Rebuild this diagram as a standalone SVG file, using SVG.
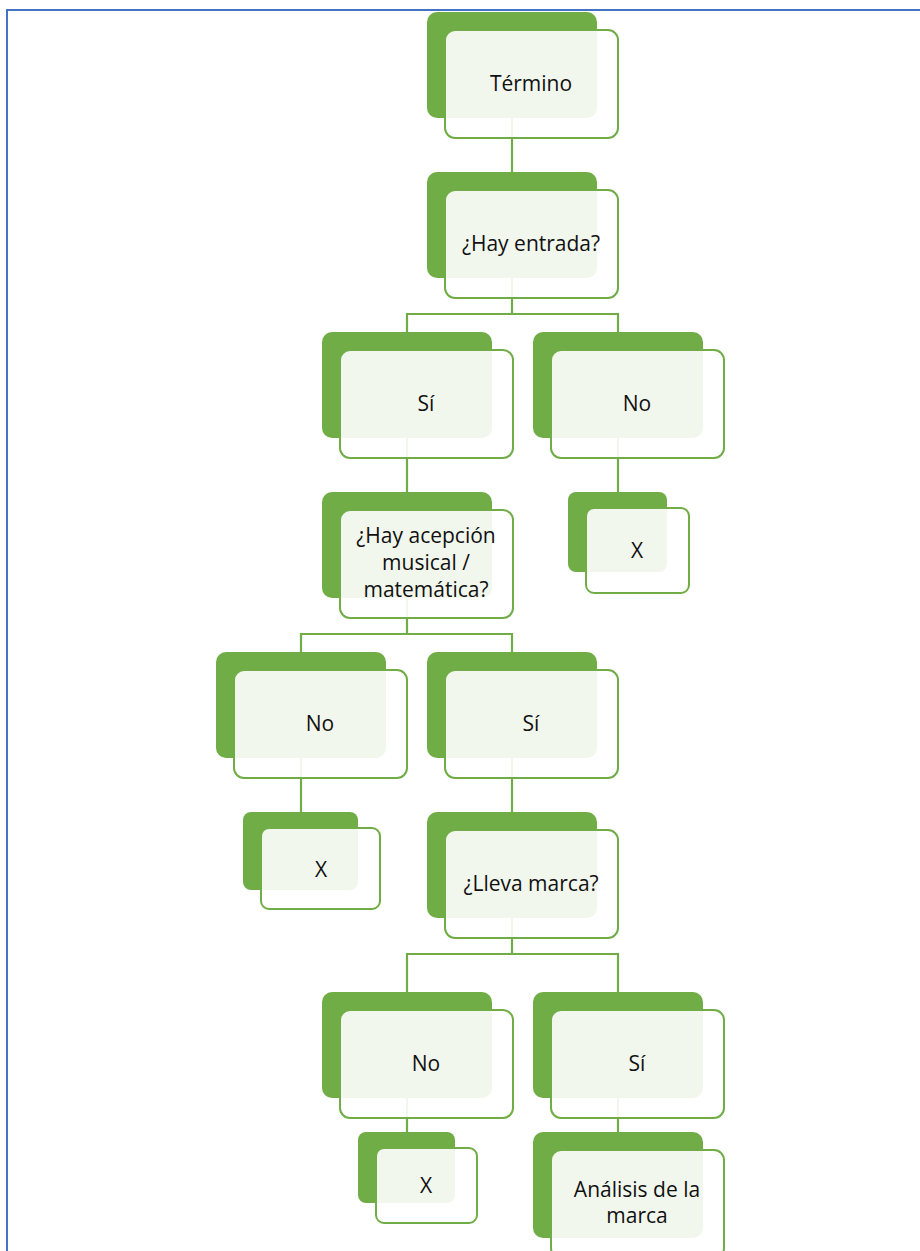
<svg xmlns="http://www.w3.org/2000/svg" width="920" height="1251" viewBox="0 0 920 1251">
<style>
.back{fill:#70AD47;}
.front{fill:#FFFFFF;fill-opacity:0.9;stroke:#70AD47;stroke-width:2;}
.conn{fill:none;stroke:#70AD47;stroke-width:2.2;}
.lbl{font-family:"Open Sans","Noto Sans",sans-serif;font-size:21px;fill:#111;text-anchor:middle;}
.frame{fill:none;stroke:#4472C4;stroke-width:2;}
</style>
<rect width="920" height="1251" fill="#FFFFFF"/>
<path class="frame" d="M7 1251 V10 H920"/>
<g id="connectors">
<path class="conn" d="M512 118 V172"/>
<path class="conn" d="M512 278 V314 M407 332 V314 H618 V332"/>
<path class="conn" d="M618 438 V492"/>
<path class="conn" d="M407 438 V492"/>
<path class="conn" d="M407 598 V634 M301 652 V634 H512 V652"/>
<path class="conn" d="M301 758 V812"/>
<path class="conn" d="M512 758 V812"/>
<path class="conn" d="M512 918 V954 M407 992 V954 H618 V992"/>
<path class="conn" d="M407 1098 V1132"/>
<path class="conn" d="M618 1098 V1132"/>
</g>
<g id="n1">
<rect class="back" x="427" y="12" width="170" height="106" rx="10"/>
<rect class="front" x="445" y="30" width="173" height="108" rx="10"/>
<text class="lbl" x="531" y="91">Término</text>
</g>
<g id="n2">
<rect class="back" x="427" y="172" width="170" height="106" rx="10"/>
<rect class="front" x="445" y="190" width="173" height="108" rx="10"/>
<text class="lbl" x="531" y="251">¿Hay entrada?</text>
</g>
<g id="n3">
<rect class="back" x="322" y="332" width="170" height="106" rx="10"/>
<rect class="front" x="340" y="350" width="173" height="108" rx="10"/>
<text class="lbl" x="426" y="411">Sí</text>
</g>
<g id="n4">
<rect class="back" x="533" y="332" width="170" height="106" rx="10"/>
<rect class="front" x="551" y="350" width="173" height="108" rx="10"/>
<text class="lbl" x="637" y="411">No</text>
</g>
<g id="n5">
<rect class="back" x="568" y="492" width="99" height="80" rx="8"/>
<rect class="front" x="586" y="508" width="103" height="85" rx="8"/>
<text class="lbl" x="637" y="558">X</text>
</g>
<g id="n6">
<rect class="back" x="322" y="492" width="170" height="106" rx="10"/>
<rect class="front" x="340" y="510" width="173" height="108" rx="10"/>
<text class="lbl" x="426" y="543">¿Hay acepción</text>
<text class="lbl" x="426" y="570">musical /</text>
<text class="lbl" x="426" y="597">matemática?</text>
</g>
<g id="n7">
<rect class="back" x="216" y="652" width="170" height="106" rx="10"/>
<rect class="front" x="234" y="670" width="173" height="108" rx="10"/>
<text class="lbl" x="320" y="731">No</text>
</g>
<g id="n8">
<rect class="back" x="427" y="652" width="170" height="106" rx="10"/>
<rect class="front" x="445" y="670" width="173" height="108" rx="10"/>
<text class="lbl" x="531" y="731">Sí</text>
</g>
<g id="n9">
<rect class="back" x="243" y="812" width="115" height="78" rx="8"/>
<rect class="front" x="261" y="828" width="119" height="81" rx="8"/>
<text class="lbl" x="321" y="877">X</text>
</g>
<g id="n10">
<rect class="back" x="427" y="812" width="170" height="106" rx="10"/>
<rect class="front" x="445" y="830" width="173" height="108" rx="10"/>
<text class="lbl" x="531" y="891">¿Lleva marca?</text>
</g>
<g id="n11">
<rect class="back" x="322" y="992" width="170" height="106" rx="10"/>
<rect class="front" x="340" y="1010" width="173" height="108" rx="10"/>
<text class="lbl" x="426" y="1071">No</text>
</g>
<g id="n12">
<rect class="back" x="533" y="992" width="170" height="106" rx="10"/>
<rect class="front" x="551" y="1010" width="173" height="108" rx="10"/>
<text class="lbl" x="637" y="1071">Sí</text>
</g>
<g id="n13">
<rect class="back" x="358" y="1132" width="97" height="71" rx="8"/>
<rect class="front" x="376" y="1148" width="101" height="75" rx="8"/>
<text class="lbl" x="426" y="1193">X</text>
</g>
<g id="n14">
<rect class="back" x="533" y="1132" width="170" height="106" rx="10"/>
<rect class="front" x="551" y="1150" width="173" height="108" rx="10"/>
<text class="lbl" x="637" y="1197">Análisis de la</text>
<text class="lbl" x="637" y="1223">marca</text>
</g>
</svg>
